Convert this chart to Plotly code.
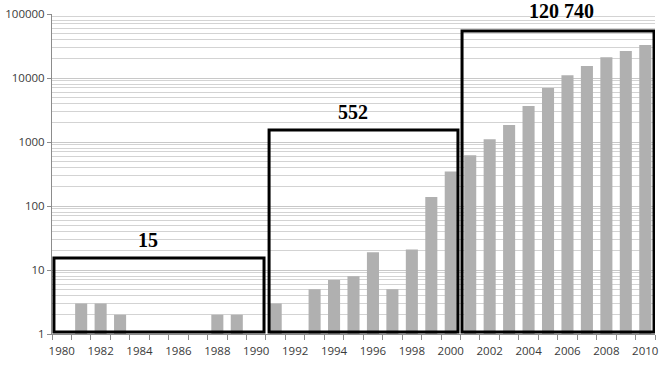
import plotly.graph_objects as go

years = list(range(1980, 2011))
counts = [
    0, 3, 3, 2, 1, 1, 1, 0, 2, 2, 0,          # 1980-1990
    3, 1, 5, 7, 8, 19, 5, 21, 138, 345,       # 1991-2000
    620, 1100, 1850, 3650, 6950, 11000, 15400, 21100, 26300, 32770,  # 2001-2010
]
group_labels = ["15", "552", "120 740"]
x_ticks = list(range(1980, 2011, 2))
y_ticks = [1, 10, 100, 1000, 10000, 100000]

x_font = dict(family="Open Sans, Liberation Sans, sans-serif", size=11.5, color="#3a3a3a")
y_font = dict(family="Open Sans, Liberation Sans, sans-serif", size=11.5, color="#3a3a3a")

fig = go.Figure()
fig.add_trace(go.Bar(
    x=years, y=[c if c > 0 else None for c in counts],
    marker=dict(color="#b0b0b0", line=dict(width=0)),
    width=0.62,
))

# boxes around the three periods
boxes = [(1979.6, 1990.4, 0.2375), (1990.66, 2000.37, 0.6375), (2000.58, 2010.45, 0.947)]
for x0, x1, top in boxes:
    fig.add_shape(type="rect", xref="x", yref="paper", x0=x0, x1=x1, y0=0.006, y1=top,
                  line=dict(color="black", width=3), fillcolor="rgba(0,0,0,0)", layer="above")

label_pos = [(1984.44, 0.294), (1994.98, 0.694), (2005.7, 1.008)]
for (lx, ly), txt in zip(label_pos, group_labels):
    fig.add_annotation(x=lx, y=ly, xref="x", yref="paper", text=f"<b>{txt}</b>",
                       xanchor="center", yanchor="middle",
                       showarrow=False, font=dict(family="Liberation Serif, serif", size=20, color="black"))

fig.update_layout(
    width=663, height=366,
    margin=dict(l=52, r=8, t=14, b=32),
    paper_bgcolor="white", plot_bgcolor="white",
    showlegend=False,
    xaxis=dict(
        range=[1979.5, 2010.5], tickmode="array", tickvals=x_ticks,
        ticktext=[str(v) for v in x_ticks], ticks="", tickfont=x_font,
        ticklabelstandoff=6,
        showgrid=False, showline=True, linecolor="#8c8c8c", linewidth=1,
        zeroline=False, automargin=False,
        minor=dict(tick0=1979.5, dtick=1, ticks="outside", ticklen=5, tickcolor="#8c8c8c", showgrid=False),
    ),
    yaxis=dict(
        type="log", range=[0, 5], tickmode="array", tickvals=y_ticks,
        ticktext=[str(v) for v in y_ticks], tickfont=y_font,
        ticks="outside", ticklen=4, tickcolor="#8c8c8c", automargin=False,
        showgrid=True, gridcolor="#c8c8c8", gridwidth=1,
        showline=True, linecolor="#8c8c8c", linewidth=1, zeroline=False,
        minor=dict(dtick="D1", showgrid=True, gridcolor="#d3d3d3", gridwidth=1, ticks=""),
    ),
)

fig.write_html("out.html")
